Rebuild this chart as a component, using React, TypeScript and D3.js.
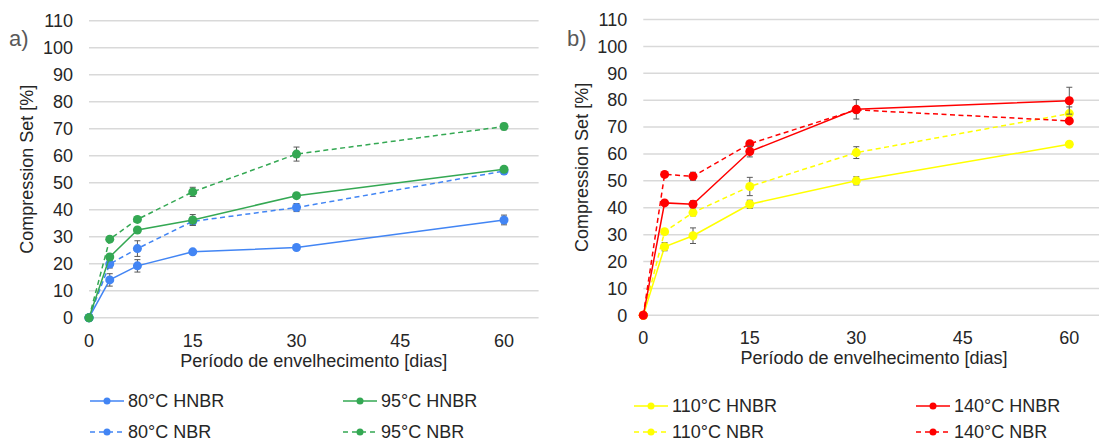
import React from "react";
import * as d3 from "d3";

const days = [0, 3, 7, 15, 30, 60];
const xTicks = [0, 15, 30, 45, 60];
const yTicks = [0, 10, 20, 30, 40, 50, 60, 70, 80, 90, 100, 110];

// Panel a)
const hnbr80 = [0, 14, 19.2, 24.4, 26, 36.2];
const hnbr80Err = [0, 2.3, 2.3, 0.8, 0.8, 1.8];
const nbr80 = [0, 19.9, 25.6, 35.7, 40.8, 54.3];
const nbr80Err = [0, 1.5, 2.9, 1.5, 1.5, 1];
const hnbr95 = [0, 22.5, 32.5, 36.2, 45.2, 55];
const hnbr95Err = [0, 1, 0.8, 2, 0.6, 0.6];
const nbr95 = [0, 29.1, 36.4, 46.6, 60.6, 70.8];
const nbr95Err = [0, 0.8, 0.8, 1.7, 2.6, 1.2];

// Panel b)
const hnbr110 = [0, 25.5, 29.6, 41.3, 50, 63.6];
const hnbr110Err = [0, 1.5, 2.9, 1.5, 1.5, 0.8];
const nbr110 = [0, 31.1, 38.2, 47.9, 60.5, 75];
const nbr110Err = [0, 0.8, 1.2, 3.4, 2.2, 2.5];
const hnbr140 = [0, 41.8, 41.3, 60.9, 76.6, 79.8];
const hnbr140Err = [0, 0.8, 1.3, 2, 3.6, 5];
const nbr140 = [0, 52.4, 51.7, 63.8, 76.4, 72.3];
const nbr140Err = [0, 0.8, 1.5, 0.8, 0.8, 0.8];

type Series = { name: string; values: number[]; err: number[]; color: string; dashed: boolean };

const seriesA: Series[] = [
  { name: "80°C HNBR", values: hnbr80, err: hnbr80Err, color: "#4285F4", dashed: false },
  { name: "95°C HNBR", values: hnbr95, err: hnbr95Err, color: "#34A853", dashed: false },
  { name: "80°C NBR", values: nbr80, err: nbr80Err, color: "#4285F4", dashed: true },
  { name: "95°C NBR", values: nbr95, err: nbr95Err, color: "#34A853", dashed: true },
];
const seriesB: Series[] = [
  { name: "110°C HNBR", values: hnbr110, err: hnbr110Err, color: "#FFFF00", dashed: false },
  { name: "140°C HNBR", values: hnbr140, err: hnbr140Err, color: "#FF0000", dashed: false },
  { name: "110°C NBR", values: nbr110, err: nbr110Err, color: "#FFFF00", dashed: true },
  { name: "140°C NBR", values: nbr140, err: nbr140Err, color: "#FF0000", dashed: true },
];

const FONT = "'Liberation Sans', Arial, sans-serif";
const FS = 18;

type PanelProps = {
  label: string;
  series: Series[];
  x0: number;
  x1: number;
  y0: number;
  y1: number;
  labelX: number;
  titleX: number;
  legendX: number[];
  legendY: number[];
};

function Panel({ label, series, x0, x1, y0, y1, labelX, titleX, legendX, legendY }: PanelProps) {
  const x = d3.scaleLinear().domain([0, 65]).range([x0, x1]);
  const y = d3.scaleLinear().domain([0, 110]).range([y0, y1]);
  const line = d3
    .line<number>()
    .x((_, i) => x(days[i]))
    .y((v) => y(v));
  const gridEnd = Math.min(x1, 1099);
  const drawOrder = [series[2], series[3], series[0], series[1]];
  return (
    <g>
      <text x={labelX} y={46} fontSize={22} fill="#595959" fontFamily={FONT}>
        {label}
      </text>
      {yTicks.map((t) => (
        <g key={t}>
          <line x1={x0} x2={gridEnd} y1={y(t)} y2={y(t)} stroke="#D9D9D9" strokeWidth={1.5} />
          <text
            x={x0 - 16}
            y={y(t)}
            dy="0.35em"
            textAnchor="end"
            fontSize={FS}
            fill="#262626"
            fontFamily={FONT}
          >
            {t}
          </text>
        </g>
      ))}
      {xTicks.map((t) => (
        <text
          key={t}
          x={x(t)}
          y={y0 + 29}
          textAnchor="middle"
          fontSize={FS}
          fill="#262626"
          fontFamily={FONT}
        >
          {t}
        </text>
      ))}
      <text
        x={(x0 + x1) / 2}
        y={y0 + 49}
        textAnchor="middle"
        fontSize={FS}
        fill="#262626"
        fontFamily={FONT}
      >
        Período de envelhecimento [dias]
      </text>
      <text
        transform={`translate(${titleX},${(y0 + y1) / 2}) rotate(-90)`}
        textAnchor="middle"
        fontSize={FS}
        fill="#262626"
        fontFamily={FONT}
      >
        Compression Set [%]
      </text>
      {drawOrder.map((s) => (
        <g key={s.name}>
          <path
            d={line(s.values) || ""}
            fill="none"
            stroke={s.color}
            strokeWidth={1.5}
            strokeDasharray={s.dashed ? "5,3.5" : undefined}
          />
          {s.values.map((v, i) =>
            s.err[i] > 0 ? (
              <g key={"e" + i} stroke="#595959" strokeWidth={1}>
                <line x1={x(days[i])} x2={x(days[i])} y1={y(v - s.err[i])} y2={y(v + s.err[i])} />
                <line x1={x(days[i]) - 3} x2={x(days[i]) + 3} y1={y(v - s.err[i])} y2={y(v - s.err[i])} />
                <line x1={x(days[i]) - 3} x2={x(days[i]) + 3} y1={y(v + s.err[i])} y2={y(v + s.err[i])} />
              </g>
            ) : null
          )}
          {s.values.map((v, i) => (
            <circle key={"c" + i} cx={x(days[i])} cy={y(v)} r={4.5} fill={s.color} />
          ))}
        </g>
      ))}
      {series.map((s, k) => {
        const lx = legendX[k % 2];
        const ly = legendY[k < 2 ? 0 : 1];
        return (
          <g key={"l" + s.name}>
            <line
              x1={lx}
              x2={lx + 34}
              y1={ly}
              y2={ly}
              stroke={s.color}
              strokeWidth={1.5}
              strokeDasharray={s.dashed ? "5,4" : undefined}
            />
            <circle cx={lx + 17} cy={ly} r={3.5} fill={s.color} />
            <text x={lx + 38} y={ly} dy="0.35em" fontSize={FS} fill="#262626" fontFamily={FONT}>
              {s.name}
            </text>
          </g>
        );
      })}
    </g>
  );
}

export default function App() {
  return (
    <svg width={1099} height={441} style={{ position: "absolute", left: 0, top: 0, background: "#fff" }}>
      <rect width={1099} height={441} fill="#fff" />
      <Panel
        label="a)"
        series={seriesA}
        x0={89}
        x1={538.6}
        y0={317.7}
        y1={20.7}
        labelX={9}
        titleX={33}
        legendX={[90, 343]}
        legendY={[401, 432]}
      />
      <Panel
        label="b)"
        series={seriesB}
        x0={643.3}
        x1={1104.8}
        y0={315.3}
        y1={19.5}
        labelX={567}
        titleX={588}
        legendX={[634, 916]}
        legendY={[406, 432]}
      />
    </svg>
  );
}
